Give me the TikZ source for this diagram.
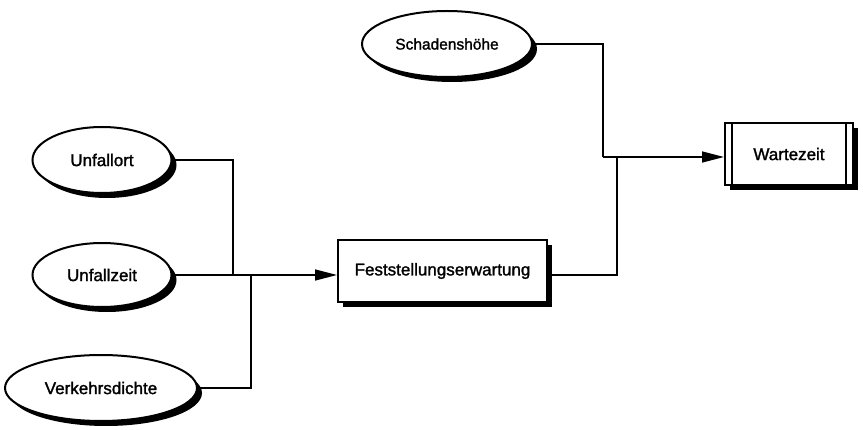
\documentclass[tikz,border=0pt]{standalone}
\usepackage{fontspec}
\setmainfont{Liberation Sans}[BoldFont={Liberation Sans},BoldFeatures={FakeBold=1.5}]
\usetikzlibrary{shapes.geometric,shadows,arrows.meta}
\begin{document}
\begin{tikzpicture}[x=1pt,y=-1pt,
  shadowed/.style={drop shadow={shadow xshift=5pt,shadow yshift=-5pt,fill=black,opacity=1}},
  entity/.style={ellipse,draw,line width=2pt,fill=white,inner sep=0pt,shadowed,
    font=\bfseries\fontsize{17}{20}\selectfont},
  procbox/.style={rectangle,draw,line width=2pt,fill=white,inner sep=0pt,shadowed,
    font=\bfseries\fontsize{17}{20}\selectfont},
  link/.style={line width=1.5pt},
  flow/.style={link,-{Triangle[length=22pt,width=11pt]}}]
\useasboundingbox (0,0) rectangle (863,430);

% input variables
\node[entity,minimum width=170pt,minimum height=66pt,font=\bfseries\fontsize{15.5}{18}\selectfont] (sch) at (447,44) {Schadenshöhe};
\node[entity,minimum width=139pt,minimum height=66pt] (ort) at (102,160) {Unfallort};
\node[entity,minimum width=139pt,minimum height=64pt] (zeit) at (102,275) {Unfallzeit};
\node[entity,minimum width=192pt,minimum height=66pt] (vd) at (101,388) {Verkehrsdichte};

% derived quantities
\node[procbox,minimum width=209pt,minimum height=62pt] (f) at (442.5,271) {Feststellungserwartung};
\node[procbox,minimum width=128pt,minimum height=62pt] (w) at (789,154) {Wartezeit};
\draw[line width=1.6pt] ([xshift=8pt]w.north west) -- ([xshift=8pt]w.south west);
\draw[line width=1.6pt] ([xshift=-8pt]w.north east) -- ([xshift=-8pt]w.south east);

% junction points
\coordinate (j1) at (233,275);
\coordinate (j2) at (251,275);
\coordinate (j3) at (603,157);
\coordinate (j4) at (617,157);

% connectors
\draw[link] (ort.east) -| (j1);
\draw[link] (vd.east) -| (j2);
\draw[flow] (zeit.east) -- (f.west |- zeit.east);
\draw[link] (sch.east) -| (j3);
\draw[flow] (j3) -- (w.west |- j3);
\draw[link] (f.east |- zeit.east) -| (j4);
\end{tikzpicture}
\end{document}
